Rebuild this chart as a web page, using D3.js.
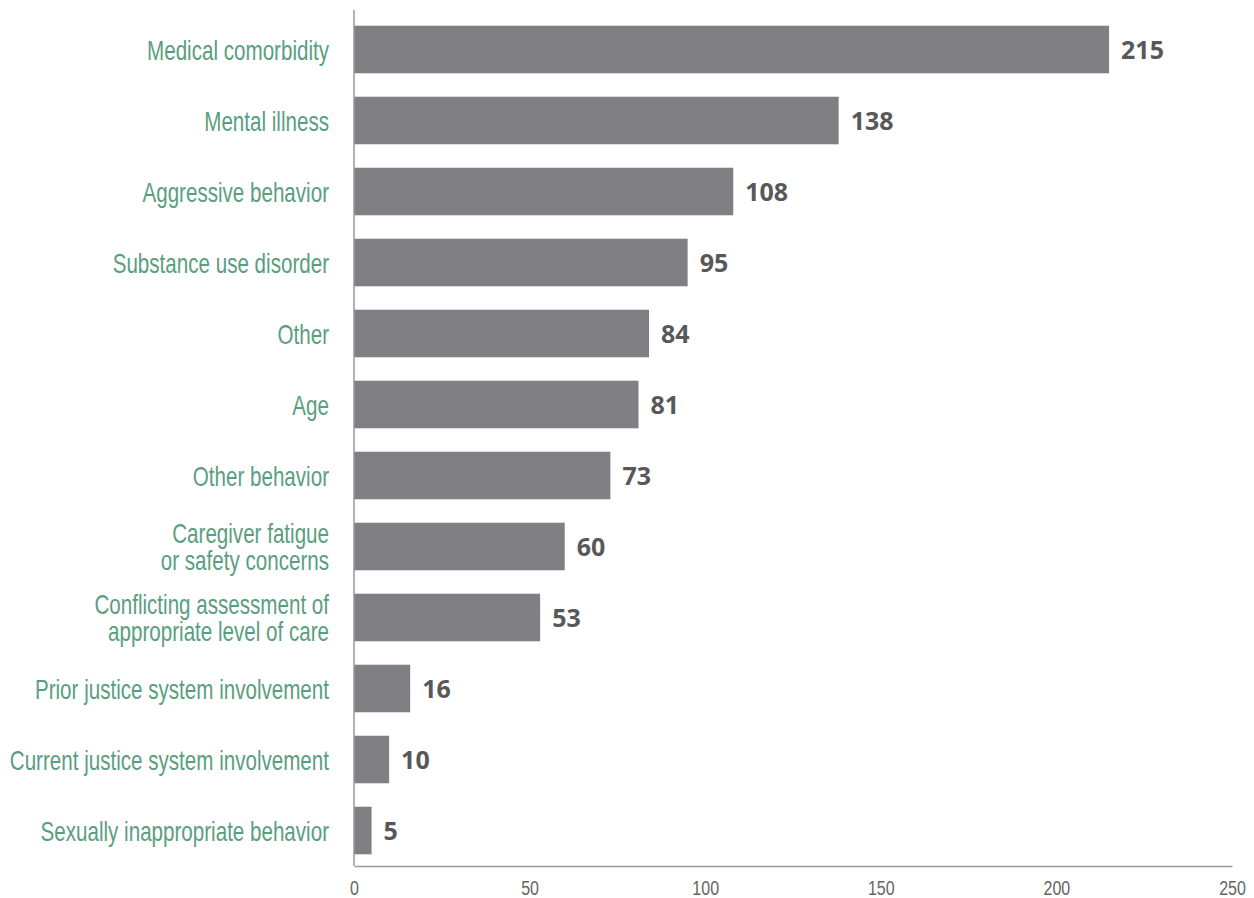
<!DOCTYPE html>
<html>
<head>
<meta charset="utf-8">
<script src="https://cdn.jsdelivr.net/npm/d3@7"></script>
<style>
  body { margin: 0; background: #fff; }
  .cat { font-family: "Liberation Sans", Arial, sans-serif; fill: #5a9e80; font-size: 27px; }
  .val { font-family: "Open Sans", sans-serif; font-weight: 700; fill: #58585a; font-size: 25px; }
</style>
</head>
<body>
<svg id="chart" width="1254" height="898"></svg>
<script>
// data
var categories = [
  ["Medical comorbidity"],
  ["Mental illness"],
  ["Aggressive behavior"],
  ["Substance use disorder"],
  ["Other"],
  ["Age"],
  ["Other behavior"],
  ["Caregiver fatigue", "or safety concerns"],
  ["Conflicting assessment of", "appropriate level of care"],
  ["Prior justice system involvement"],
  ["Current justice system involvement"],
  ["Sexually inappropriate behavior"]
];
var values = [215, 138, 108, 95, 84, 81, 73, 60, 53, 16, 10, 5];
var tickValues = [0, 50, 100, 150, 200, 250];

var svg = d3.select("#chart");
var plotLeft = 354, plotRight = 1232, plotTop = 14, plotBottom = 866;
var narrow = 0.763; // squeeze to look like a condensed face

var x = d3.scaleLinear().domain([0, 250]).range([plotLeft, plotRight]);
var y = d3.scaleBand().domain(d3.range(values.length)).range([plotTop, plotBottom]).paddingInner(0.33).paddingOuter(0.165);

// bars
svg.selectAll("rect.bar")
  .data(values)
  .enter().append("rect")
  .attr("class", "bar")
  .attr("x", x(0))
  .attr("y", (d, i) => y(i))
  .attr("width", d => x(d) - x(0))
  .attr("height", y.bandwidth())
  .attr("fill", "#808084");

// value labels
svg.selectAll("text.val")
  .data(values)
  .enter().append("text")
  .attr("class", "val")
  .attr("x", d => x(d) + 12)
  .attr("y", (d, i) => y(i) + y.bandwidth() / 2)
  .attr("dy", "0.36em")
  .text(d => d);

// category labels
var labels = svg.selectAll("text.cat")
  .data(categories)
  .enter().append("text")
  .attr("class", "cat")
  .attr("text-anchor", "end")
  .attr("transform", (d, i) => `translate(${plotLeft - 25},${y(i) + y.bandwidth() / 2}) scale(${narrow},1)`);

labels.each(function(lines) {
  var t = d3.select(this);
  var lh = 27;
  var start = -(lines.length - 1) * lh / 2;
  lines.forEach((line, j) => {
    t.append("tspan")
      .attr("x", 0)
      .attr("dy", j === 0 ? (start + 10) + "px" : lh + "px")
      .text(line);
  });
});

// x axis
var xAxis = svg.append("g")
  .attr("transform", `translate(0,${plotBottom})`)
  .call(d3.axisBottom(x).tickValues(tickValues).tickSize(0).tickPadding(0));
xAxis.select(".domain").attr("stroke", "#999").attr("stroke-width", 1.5);
xAxis.attr("font-family", "Liberation Sans, Arial, sans-serif").attr("font-size", 20);
xAxis.selectAll(".tick text")
  .attr("fill", "#666")
  .attr("y", 0)
  .attr("dy", 0)
  .attr("transform", "translate(0,29) scale(0.8,1)");

// y axis line
svg.append("line")
  .attr("x1", plotLeft).attr("x2", plotLeft)
  .attr("y1", 10).attr("y2", plotBottom)
  .attr("stroke", "#999").attr("stroke-width", 1.5);
</script>
</body>
</html>
